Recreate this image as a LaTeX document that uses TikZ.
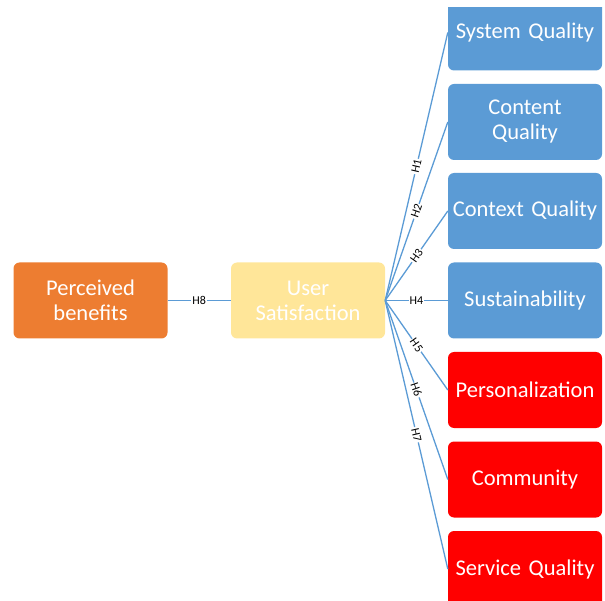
\documentclass[tikz,border=0pt]{standalone}
\usepackage{fontspec}
\setmainfont{Carlito}[WordSpace=0.8]
\definecolor{qblue}{HTML}{5B9BD5}
\definecolor{qorange}{HTML}{ED7D31}
\definecolor{qyellow}{HTML}{FFE699}
\definecolor{qred}{HTML}{FF0000}
\definecolor{qline}{HTML}{5B9BD5}
\tikzset{
  box/.style={rounded corners=6pt, minimum width=154pt, minimum height=76pt, inner sep=0pt,
    text=white, align=center, font=\fontsize{22.5}{25}\selectfont, text width=150pt},
  bluebox/.style={box, fill=qblue},
  redbox/.style={box, fill=qred},
  conn/.style={draw=qline, line width=1.3pt},
  hlab/.style={midway, sloped, fill=white, inner sep=1pt, text=black, font=\fontsize{12}{12}\selectfont}
}
\begin{document}
\begin{tikzpicture}[x=1pt,y=-1pt]
\path[use as bounding box] (0,0) rectangle (605,601);
\begin{scope}
\clip (0,8) rectangle (605,601);
\node[box, fill=qorange] (pb) at (90.5,300.5) {Perceived\\benefits};
\node[box, fill=qyellow] (us) at (308,300.5) {User\\Satisfaction};
\node[bluebox] (b1) at (525,32.5) {System Quality};
\node[bluebox] (b2) at (525,122) {Content\\Quality};
\node[bluebox] (b3) at (525,211) {Context Quality};
\node[bluebox] (b4) at (525,300.5) {Sustainability};
\node[redbox] (b5) at (525,390) {Personalization};
\node[redbox] (b6) at (525,479.5) {Community};
\node[redbox] (b7) at (525,569) {Service Quality};
\end{scope}
\draw[conn] (pb.east) -- node[hlab]{H8} (us.west);
\draw[conn] (us.east) -- node[hlab]{H1} (b1.west);
\draw[conn] (us.east) -- node[hlab]{H2} (b2.west);
\draw[conn] (us.east) -- node[hlab]{H3} (b3.west);
\draw[conn] (us.east) -- node[hlab]{H4} (b4.west);
\draw[conn] (us.east) -- node[hlab]{H5} (b5.west);
\draw[conn] (us.east) -- node[hlab]{H6} (b6.west);
\draw[conn] (us.east) -- node[hlab]{H7} (b7.west);
\end{tikzpicture}
\end{document}
